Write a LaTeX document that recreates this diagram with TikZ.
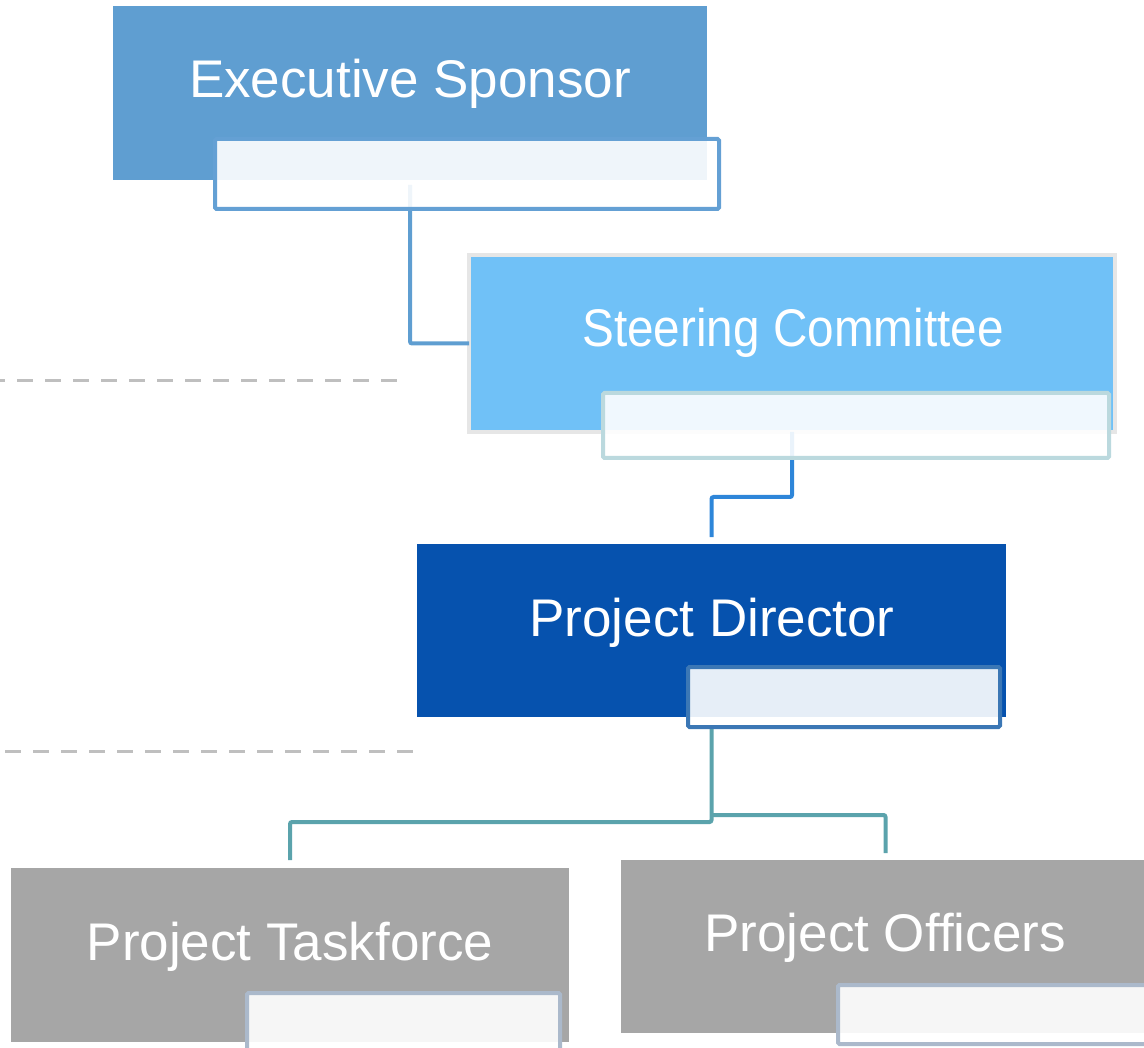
\documentclass[tikz,border=0pt]{standalone}
\usepackage{fontspec}
\setmainfont{Liberation Sans}
\definecolor{esblue}{RGB}{95,158,209}
\definecolor{essub}{RGB}{100,160,212}
\definecolor{scfill}{RGB}{112,193,247}
\definecolor{scborder}{RGB}{230,230,230}
\definecolor{scsub}{RGB}{187,217,222}
\definecolor{connblue}{RGB}{46,134,217}
\definecolor{pdfill}{RGB}{6,82,174}
\definecolor{pdsub}{RGB}{59,119,181}
\definecolor{connteal}{RGB}{91,163,172}
\definecolor{grayfill}{RGB}{166,166,166}
\definecolor{graysub}{RGB}{171,185,203}
\definecolor{dashgray}{RGB}{191,191,191}
\begin{document}
\begin{tikzpicture}[x=1pt,y=-1pt,
  mainbox/.style={inner sep=0pt, outer sep=0pt, anchor=north west},
  subbox/.style={inner sep=0pt, outer sep=0pt, anchor=north west, line width=4pt,
    fill=white, fill opacity=0.9, rounded corners=1.5pt},
  conn/.style={line width=4pt, rounded corners=2pt},
  boxtext/.style={text=white, font=\fontsize{53}{60}\selectfont, anchor=base, inner sep=0pt},
  sepline/.style={draw=dashgray, line width=3pt, dash pattern=on 16pt off 12pt}]
\useasboundingbox (0,0) rectangle (1144,1048);

% dashed separators
\coordinate (d1a) at (-11,381);
\coordinate (d1b) at (397,381);
\coordinate (d2a) at (5,751);
\coordinate (d2b) at (413,751);
\draw[sepline] (d1a) -- (d1b);
\draw[sepline] (d2a) -- (d2b);

% main boxes
\node[mainbox, fill=esblue, minimum width=594pt, minimum height=174pt] (es) at (113,6) {};
\node[mainbox, fill=scfill, draw=scborder, line width=4pt, minimum width=646pt, minimum height=177pt] (sc) at (469,255) {};
\node[mainbox, fill=pdfill, minimum width=589pt, minimum height=173pt] (pd) at (417,544) {};
\node[mainbox, fill=grayfill, minimum width=558pt, minimum height=174pt] (pt) at (11,868) {};
\node[mainbox, fill=grayfill, minimum width=529pt, minimum height=173pt] (po) at (621,860) {};

% connectors
\coordinate (j0) at (711.5,727);
\coordinate (j1) at (711.5,822);
\coordinate (j2) at (711.5,815);
\draw[conn, draw=esblue, shorten <=5pt] (es.south) |- (sc.west);
\draw[conn, draw=connblue, shorten >=7pt] (sc.south) -- ++(0,65) -| (pd.north);
\draw[conn, draw=connteal, shorten >=8pt] (j0) -- (j1) -| (pt.north);
\draw[conn, draw=connteal, shorten >=7pt] (j2) -| (po.north);

% sub boxes
\node[subbox, draw=essub, minimum width=504pt, minimum height=70pt] (essb) at (215,139) {};
\node[subbox, draw=scsub, minimum width=506pt, minimum height=65pt] (scsb) at (603,393) {};
\node[subbox, draw=pdsub, minimum width=312pt, minimum height=60pt] (pdsb) at (688,667) {};
\node[subbox, draw=graysub, minimum width=313pt, minimum height=60pt] (ptsb) at (247,993) {};
\node[subbox, draw=graysub, minimum width=322pt, minimum height=59pt] (posb) at (838,985) {};

% texts
\node[boxtext] (est) at (410,98) {Executive Sponsor};
\node[boxtext, xscale=0.9] (sct) at (793,347) {Steering Committee};
\node[boxtext] (pdt) at (712,636) {Project Director};
\node[boxtext] (ptt) at (290,960) {Project Taskforce};
\node[boxtext] (pot) at (885,951) {Project Officers};
\end{tikzpicture}
\end{document}
